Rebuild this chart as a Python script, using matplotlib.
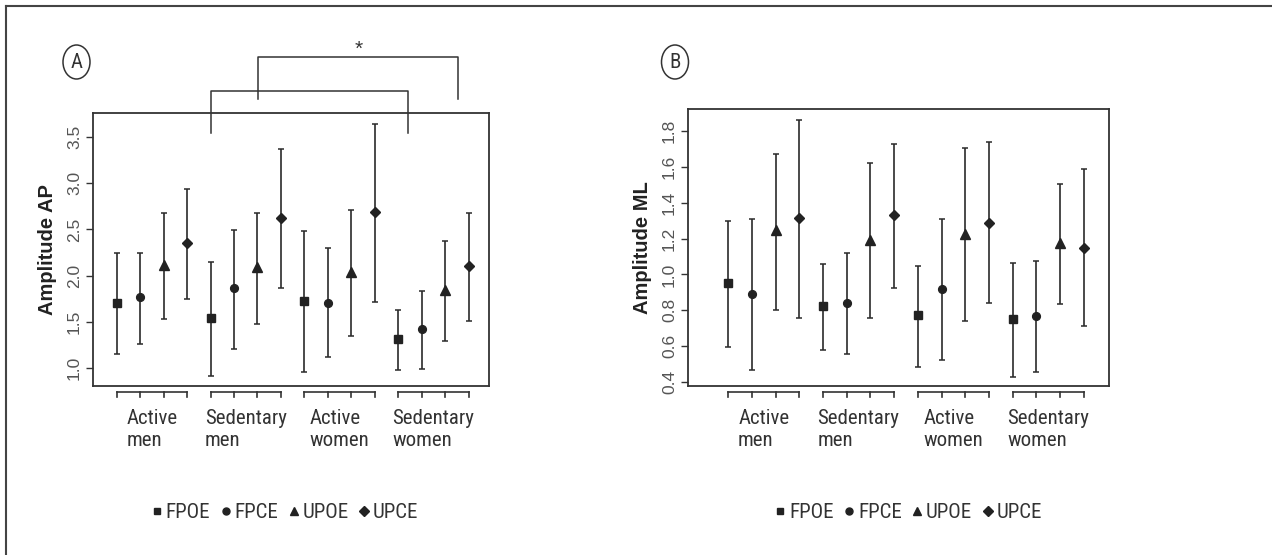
import matplotlib
matplotlib.use("Agg")
import matplotlib.pyplot as plt
import matplotlib.transforms as mtransforms
from matplotlib import font_manager
from matplotlib.patches import Ellipse
from matplotlib.lines import Line2D

# groups and conditions
groups = ["Active\nmen", "Sedentary\nmen", "Active\nwomen", "Sedentary\nwomen"]
conditions = ["FPOE", "FPCE", "UPOE", "UPCE"]
markers = ["s", "o", "^", "D"]
msizes = [5.2, 5.6, 6.8, 5.6]

# panel A - amplitude AP (mean, lower, upper) per condition, one value per group
ap_mean = {
    "FPOE": [1.70, 1.54, 1.73, 1.32],
    "FPCE": [1.77, 1.87, 1.71, 1.42],
    "UPOE": [2.12, 2.09, 2.04, 1.85],
    "UPCE": [2.35, 2.62, 2.69, 2.10],
}
ap_low = {
    "FPOE": [1.155, 0.915, 0.957, 0.985],
    "FPCE": [1.265, 1.21, 1.12, 0.99],
    "UPOE": [1.535, 1.478, 1.35, 1.30],
    "UPCE": [1.745, 1.87, 1.72, 1.514],
}
ap_high = {
    "FPOE": [2.25, 2.15, 2.486, 1.633],
    "FPCE": [2.25, 2.49, 2.30, 1.838],
    "UPOE": [2.68, 2.68, 2.706, 2.38],
    "UPCE": [2.935, 3.37, 3.64, 2.677],
}

# panel B - amplitude ML
ml_mean = {
    "FPOE": [0.953, 0.824, 0.773, 0.751],
    "FPCE": [0.889, 0.839, 0.921, 0.768],
    "UPOE": [1.248, 1.195, 1.225, 1.178],
    "UPCE": [1.315, 1.332, 1.29, 1.149],
}
ml_low = {
    "FPOE": [0.594, 0.577, 0.482, 0.426],
    "FPCE": [0.467, 0.555, 0.522, 0.456],
    "UPOE": [0.801, 0.755, 0.740, 0.835],
    "UPCE": [0.755, 0.926, 0.839, 0.710],
}
ml_high = {
    "FPOE": [1.30, 1.059, 1.048, 1.066],
    "FPCE": [1.311, 1.119, 1.311, 1.076],
    "UPOE": [1.671, 1.621, 1.705, 1.503],
    "UPCE": [1.864, 1.727, 1.740, 1.589],
}

ap_ticks = [1.0, 1.5, 2.0, 2.5, 3.0, 3.5]
ml_ticks = [0.4, 0.6, 0.8, 1.0, 1.2, 1.4, 1.6, 1.8]

# look for a condensed sans face for the group labels / legend
narrow_file = None
prefs = ["Roboto Condensed", "Liberation Sans Narrow", "Open Sans Condensed",
         "DejaVu Sans Condensed", "Noto Sans Condensed"]
cands = []
for f in font_manager.fontManager.ttflist:
    fn = f.fname.lower()
    if ("condensed" in fn or "narrow" in fn or f.stretch in ("condensed", "semi-condensed")) \
            and "bold" not in fn and "italic" not in fn and "oblique" not in fn \
            and "light" not in fn and "mono" not in fn and "serif" not in fn.replace("sans", ""):
        cands.append(f)
for p in prefs:
    key = p.lower().replace(" ", "")
    hit = [f for f in cands if key in f.fname.lower().replace("-", "").replace("_", "").replace(" ", "")]
    if hit:
        narrow_file = hit[0].fname
        break
if narrow_file is None and cands:
    narrow_file = cands[0].fname


def nprop(size):
    if narrow_file:
        return font_manager.FontProperties(fname=narrow_file, size=size)
    return font_manager.FontProperties(family="DejaVu Sans", stretch="condensed", size=size)


plain = ["Liberation Sans", "DejaVu Sans"]
dark = "#222222"
txt = "#333333"

W, H = 1272, 555
fig = plt.figure(figsize=(W / 100, H / 100), dpi=100)


def px_axes(l, t, r, b):
    return fig.add_axes([l / W, 1 - b / H, (r - l) / W, (b - t) / H])


axA = px_axes(93, 113, 489, 386)
axB = px_axes(688, 109, 1109, 386)


def draw_panel(ax, means, lows, highs, ticks, ylim, xlim, ylabel, leg_x):
    for k, cond in enumerate(conditions):
        xs = [g * 4 + k + 1 for g in range(4)]
        m = means[cond]
        err = [[m[i] - lows[cond][i] for i in range(4)],
               [highs[cond][i] - m[i] for i in range(4)]]
        ax.errorbar(xs, m, yerr=err, fmt=markers[k], ms=msizes[k], color=dark,
                    ecolor="#2a2a2a", elinewidth=1.2, capsize=2.4, capthick=1.1)
    ax.set_xlim(*xlim)
    ax.set_ylim(*ylim)
    ax.set_xticks([])
    ax.set_yticks(ticks)
    ax.set_yticklabels([f"{t:.1f}" for t in ticks], rotation=90, va="center",
                       family=plain, fontsize=12.5, color="#555555")
    ax.tick_params(axis="y", length=5, width=1, color=txt, pad=3)
    for s in ax.spines.values():
        s.set_color(txt)
        s.set_linewidth(1.3)
    ax.set_ylabel(ylabel, fontsize=14.5, fontweight="bold", family=plain,
                  color=dark, labelpad=7)

    # group axis under the plot
    hpx = ax.get_position().height * H
    trans = mtransforms.blended_transform_factory(ax.transData, ax.transAxes)
    y0 = -5.7 / hpx
    y1 = -10.7 / hpx
    for g, name in enumerate(groups):
        xs = [g * 4 + k + 1 for k in range(4)]
        ax.plot([xs[0], xs[-1]], [y0, y0], transform=trans, color=txt,
                lw=1.2, clip_on=False)
        for x in xs:
            ax.plot([x, x], [y0, y1], transform=trans, color=txt,
                    lw=1.2, clip_on=False)
        ax.text((xs[0] + xs[-1]) / 2, -22.5 / hpx, name, transform=trans,
                ha="center", va="top", multialignment="left",
                fontproperties=nprop(15), color=txt, linespacing=1.2)

    handles = [Line2D([], [], ls="none", marker=markers[k], ms=msizes[k] * 0.9,
                      color=dark) for k in range(4)]
    leg = ax.legend(handles, conditions, loc="center", bbox_to_anchor=(leg_x, -127 / hpx),
                    ncol=4, frameon=False, handlelength=0.4, handletextpad=0.22,
                    columnspacing=0.55, prop=nprop(15))
    for t in leg.get_texts():
        t.set_color(txt)


draw_panel(axA, ap_mean, ap_low, ap_high, ap_ticks, (0.809, 3.757), (-0.01, 16.87),
           "Amplitude AP", 0.486)
draw_panel(axB, ml_mean, ml_low, ml_high, ml_ticks, (0.376, 1.925), (-0.69, 17.06),
           "Amplitude ML", 0.525)

# significance brackets on panel A
axA.plot([5, 5, 13.42, 13.42], [3.538, 3.998, 3.998, 3.538], color=txt,
         lw=1.1, clip_on=False)
axA.plot([7.03, 7.03, 15.53, 15.53], [3.905, 4.362, 4.362, 3.905], color=txt,
         lw=1.1, clip_on=False)
axA.text(11.3, 4.44, "*", ha="center", va="center", fontsize=15, color=txt,
         family=plain)

# circled panel letters
for letter, cx in [("A", 76.5), ("B", 675)]:
    fig.add_artist(Ellipse((cx / W, 1 - 62 / H), 27 / W, 34 / H, transform=fig.transFigure,
                           fill=False, edgecolor=txt, lw=1.1))
    fig.text(cx / W, 1 - 62 / H, letter, ha="center", va="center",
             fontproperties=nprop(15), color=txt)

# outer frame (left and top edges)
fig.add_artist(Line2D([5.5 / W, 5.5 / W], [0, 1 - 5.7 / H], transform=fig.transFigure,
                      color="#444444", lw=1.5))
fig.add_artist(Line2D([5.5 / W, 1], [1 - 5.7 / H, 1 - 5.7 / H], transform=fig.transFigure,
                      color="#444444", lw=1.5))

fig.savefig("out.png", dpi=100)
